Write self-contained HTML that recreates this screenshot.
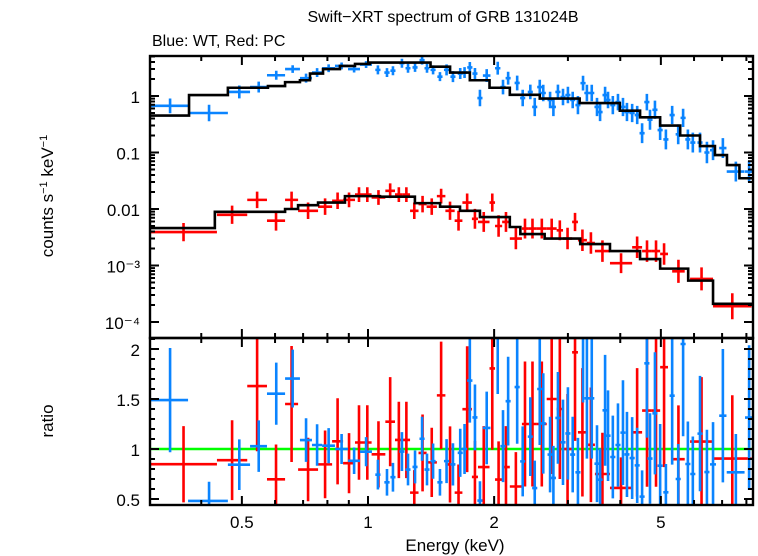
<!DOCTYPE html>
<html><head><meta charset="utf-8"><style>
body{margin:0;background:#fff;}
svg{display:block;font-family:"Liberation Sans",sans-serif;}
</style></head><body>
<svg id="c" width="758" height="556" viewBox="0 0 758 556"></svg>
<script>
// ---- data ----
const xTicksMajor=[0.5,1,2,5];
const xTicksMinor=[0.3,0.4,0.6,0.7,0.8,0.9,3,4,6,7,8];
const yTopLabels=["1","0.1","0.01","10\u207B\u00B3","10\u207B\u2074"];
const yTopDecades=[0,-1,-2,-3,-4];
const ratioTicks=[0.5,1,1.5,2];
// blue (WT) model step edges and values
const bModelEdges=[0.302,0.374,0.463,0.577,0.634,0.688,0.727,0.781,0.857,0.931,1.01,1.19,1.41,1.57,1.75,1.95,2.18,2.57,3.2,3.99,4.46,4.98,5.56,6.2,6.73,7.19,7.7,8.3];
const bModelVals=[0.45,1.04,1.4,1.5,1.76,1.9,2.5,3.0,3.4,3.7,3.9,3.9,3.3,2.6,1.9,1.4,1.05,0.9,0.75,0.55,0.42,0.3,0.2,0.13,0.09,0.06,0.035];
// red (PC) model
const rModelEdges=[0.302,0.431,0.634,0.681,0.760,0.881,1.068,1.294,1.486,1.658,1.85,2.18,2.31,2.64,3.21,3.78,4.46,4.98,5.81,6.66,8.3];
const rModelVals=[0.0046,0.0089,0.010,0.0117,0.013,0.0169,0.0165,0.0127,0.011,0.0093,0.0072,0.0048,0.0036,0.0030,0.0024,0.0018,0.0013,0.00088,0.00054,0.00021];
// blue data: centre energy, half-width, value, fractional error
const bE=[0.337,0.4175,0.493,0.5485,0.604,0.661,0.7115,0.756,0.8055,0.865,0.9265,0.9895,1.056,1.11,1.147,1.205,1.246,1.295,1.346,1.383,1.43,1.485,1.54,1.595,1.66,1.70,1.75,1.80,1.85,1.92,2.04,2.10,2.16,2.27,2.34,2.44,2.50,2.57,2.62,2.72,2.77,2.84,2.92,3.00,3.08,3.17,3.26,3.33,3.42,3.52,3.58,3.68,3.74,3.84,3.95,4.06,4.15,4.27,4.39,4.51,4.63,4.71,4.84,4.98,5.14,5.32,5.50,5.65,5.80,5.96,6.20,6.44,6.66,7.03,7.55,8.12];
const bDE=[0.035,0.0455,0.03,0.0255,0.03,0.027,0.0235,0.021,0.0285,0.031,0.0305,0.0325,0.015,0.016,0.016,0.017,0.017,0.018,0.019,0.019,0.02,0.021,0.022,0.022,0.023,0.024,0.025,0.025,0.026,0.04,0.03,0.03,0.03,0.032,0.033,0.034,0.035,0.036,0.037,0.038,0.039,0.04,0.041,0.042,0.043,0.044,0.046,0.047,0.048,0.049,0.05,0.052,0.052,0.054,0.055,0.057,0.058,0.06,0.061,0.063,0.065,0.066,0.068,0.07,0.072,0.075,0.077,0.079,0.081,0.083,0.087,0.09,0.11,0.14,0.37,0.18];
const bV=[0.67,0.50,1.18,1.44,2.33,3.0,2.07,2.6,3.1,3.4,3.0,3.6,2.9,2.6,2.8,3.8,3.1,3.2,4.3,3.1,2.9,2.2,2.9,2.2,2.5,2.6,3.2,2.5,0.92,2.3,3.1,1.44,2.07,1.7,0.92,1.18,0.64,1.44,1.13,0.85,0.64,1.18,0.96,1.04,0.85,0.69,1.69,1.13,1.13,0.64,0.52,1.04,0.85,0.69,0.78,0.64,0.52,0.5,0.46,0.22,0.78,0.38,0.57,0.25,0.17,0.46,0.21,0.41,0.17,0.15,0.15,0.1,0.11,0.12,0.046,0.046];
const bF=[0.35,0.4,0.3,0.25,0.2,0.17,0.2,0.2,0.17,0.15,0.15,0.15,0.2,0.2,0.2,0.2,0.2,0.2,0.2,0.2,0.2,0.2,0.25,0.25,0.25,0.25,0.25,0.25,0.4,0.3,0.3,0.35,0.3,0.35,0.4,0.35,0.45,0.35,0.4,0.4,0.45,0.35,0.4,0.4,0.4,0.45,0.35,0.4,0.4,0.45,0.45,0.4,0.4,0.45,0.4,0.45,0.45,0.45,0.45,0.5,0.4,0.5,0.45,0.5,0.5,0.45,0.5,0.45,0.5,0.5,0.5,0.55,0.5,0.5,0.5,0.55];
// red data: lower/upper energy, value, fractional error
const rLo=[0.302,0.436,0.515,0.574,0.634,0.681,0.760,0.821,0.872,0.931,0.973,1.02,1.10,1.16,1.21,1.26,1.32,1.38,1.46,1.53,1.61,1.68,1.77,1.83,1.95,2.01,2.09,2.18,2.33,2.41,2.53,2.67,2.82,2.92,3.07,3.17,3.33,3.48,3.78,4.27,4.51,4.76,4.98,5.32,5.87,6.66];
const rHi=[0.436,0.515,0.574,0.634,0.681,0.760,0.821,0.872,0.931,0.973,1.02,1.10,1.16,1.21,1.26,1.32,1.38,1.46,1.53,1.61,1.68,1.77,1.83,1.95,2.01,2.09,2.18,2.33,2.41,2.53,2.67,2.82,2.92,3.07,3.17,3.33,3.48,3.78,4.27,4.51,4.76,4.98,5.20,5.70,6.66,8.23];
const rV=[0.0039,0.0079,0.0145,0.0062,0.0145,0.0093,0.011,0.014,0.0145,0.018,0.018,0.016,0.021,0.018,0.018,0.0093,0.0122,0.011,0.0169,0.0093,0.0062,0.013,0.0067,0.0059,0.013,0.005,0.0059,0.003,0.0045,0.0045,0.0045,0.0045,0.0042,0.003,0.0059,0.0028,0.0025,0.0018,0.0011,0.0021,0.0018,0.0018,0.0016,0.00079,0.00058,0.00019];
const rF=[0.45,0.45,0.4,0.5,0.4,0.4,0.4,0.4,0.35,0.35,0.35,0.35,0.35,0.35,0.35,0.4,0.4,0.4,0.35,0.45,0.5,0.45,0.5,0.5,0.45,0.55,0.5,0.55,0.5,0.5,0.5,0.5,0.5,0.55,0.45,0.55,0.55,0.55,0.5,0.55,0.55,0.55,0.55,0.6,0.6,0.7];

// ---- axes ----
const L=150,R=753,T=56,M=338,B=505;
const X=e=>368+419*Math.log10(e);
const Y=v=>96-56.5*Math.log10(v);
const YR=r=>449-100*(r-1);
const svg=document.getElementById('c');
const NS='http://www.w3.org/2000/svg';
function el(tag,at,parent){const e=document.createElementNS(NS,tag);for(const k in at)e.setAttribute(k,at[k]);(parent||svg).appendChild(e);return e;}
function txt(s,x,y,size,anchor,parent){const t=el('text',{x:x,y:y,'font-size':size,'text-anchor':anchor||'middle',fill:'#000'},parent);t.textContent=s;return t;}
const clipT=el('clipPath',{id:'ct'});el('rect',{x:L,y:T,width:R-L,height:M-T},clipT);
const clipB=el('clipPath',{id:'cb'});el('rect',{x:L,y:M,width:R-L,height:B-M},clipB);
const gT=el('g',{'clip-path':'url(#ct)'});


const gB=el('g',{'clip-path':'url(#cb)'});



function modelAt(edges,vals,e){for(let i=0;i<vals.length;i++){if(e>=edges[i]&&e<edges[i+1])return vals[i];}return vals[vals.length-1];}
function cross(g,x1,x2,xc,y,y1,y2,col,name){
  const p=el('path',{d:`M${x1},${y}H${x2}M${xc},${y1}V${y2}`,stroke:col,'stroke-width':2.6,fill:'none'},g);
  
  
}
const one=el('line',{x1:L,x2:R,y1:YR(1),y2:YR(1),stroke:'#00ff00','stroke-width':2.4},gB);



for(let i=0;i<rV.length;i++){
  const ec=Math.sqrt(rLo[i]*rHi[i]);
  const x1=X(rLo[i]),x2=X(rHi[i]),xc=X(ec);
  cross(gT,x1,x2,xc,Y(rV[i]),Y(rV[i]*(1+rF[i])),Y(rV[i]/(1+rF[i])),'#ff0000','pc-data-point');
  const m=modelAt(rModelEdges,rModelVals,ec);const r=rV[i]/m,er=rV[i]*rF[i]/m;
  cross(gB,x1,x2,xc,YR(r),YR(r+er),YR(r-er),'#ff0000','pc-ratio-point');
}
for(let i=0;i<bV.length;i++){
  const x1=X(bE[i]-bDE[i]),x2=X(bE[i]+bDE[i]),xc=X(bE[i]);
  cross(gT,x1,x2,xc,Y(bV[i]),Y(bV[i]*(1+bF[i])),Y(bV[i]/(1+bF[i])),'#0a84ff','wt-data-point');
  const m=modelAt(bModelEdges,bModelVals,bE[i]);const r=bV[i]/m,er=bV[i]*bF[i]/m;
  cross(gB,x1,x2,xc,YR(r),YR(r+er),YR(r-er),'#0a84ff','wt-ratio-point');
}
function step(edges,vals,name){
  let d=`M${X(edges[0])},${Y(vals[0])}`;
  for(let i=0;i<vals.length;i++){d+=`H${X(edges[i+1])}`;if(i+1<vals.length)d+=`V${Y(vals[i+1])}`;}
  const p=el('path',{d:d,stroke:'#000','stroke-width':2.6,fill:'none'},gT);
  
  
}
step(bModelEdges,bModelVals,'wt-model-line');
step(rModelEdges,rModelVals,'pc-model-line');

const f1=el('rect',{x:L,y:T,width:R-L,height:M-T,fill:'none',stroke:'#000','stroke-width':2.4});


const f2=el('rect',{x:L,y:M,width:R-L,height:B-M,fill:'none',stroke:'#000','stroke-width':2.4});



let td='';
for(const e of xTicksMajor){const x=X(e);td+=`M${x},${T}v9M${x},${M}v-9M${x},${M}v9M${x},${B}v-9`;}
for(const e of xTicksMinor){const x=X(e);if(x<L+1||x>R-1)continue;td+=`M${x},${T}v5M${x},${M}v-5M${x},${M}v5M${x},${B}v-5`;}
for(const d of yTopDecades){const y=Y(Math.pow(10,d));td+=`M${L},${y}h9M${R},${y}h-9`;
  for(let k=2;k<10;k++){const yy=Y(k*Math.pow(10,d));if(yy<T||yy>M)continue;td+=`M${L},${yy}h5M${R},${yy}h-5`;}}
for(let k=1;k<10;k++){const yy=Y(k*10);if(yy>T)td+=`M${L},${yy}h5M${R},${yy}h-5`;}
for(let k=5;k<=21;k++){const r=k/10,yy=YR(r);if(yy<M||yy>B)continue;const len=(k%5==0)?9:5;td+=`M${L},${yy}h${len}M${R},${yy}h-${len}`;}
const tk=el('path',{d:td,stroke:'#000','stroke-width':2,fill:'none'});



const xl=el('g',{});
xTicksMajor.forEach(e=>txt(String(e),X(e),528,17,'middle',xl));
const yl=el('g',{});
yTopDecades.forEach((d,i)=>txt(yTopLabels[i],140,Y(Math.pow(10,d))+7,17,'end',yl));
const rl=el('g',{});
ratioTicks.forEach(r=>txt(String(r),140,YR(r)+7,17,'end',rl));

const t1=txt('Swift\u2212XRT spectrum of GRB 131024B',443,22,16);

const t2=txt('Blue: WT, Red: PC',152,46,16,'start');

const t3=txt('Energy (keV)',455,551,17);

const t4=el('text',{x:0,y:0,'font-size':17,'text-anchor':'middle',transform:'translate(53,196) rotate(-90)'});
t4.innerHTML='counts s<tspan font-size="11" dy="-6">\u22121</tspan><tspan dy="6"> keV</tspan><tspan font-size="11" dy="-6">\u22121</tspan>';

const t5=el('text',{x:0,y:0,'font-size':17,'text-anchor':'middle',transform:'translate(53,421) rotate(-90)'});
t5.textContent='ratio';

</script>
</body></html>
